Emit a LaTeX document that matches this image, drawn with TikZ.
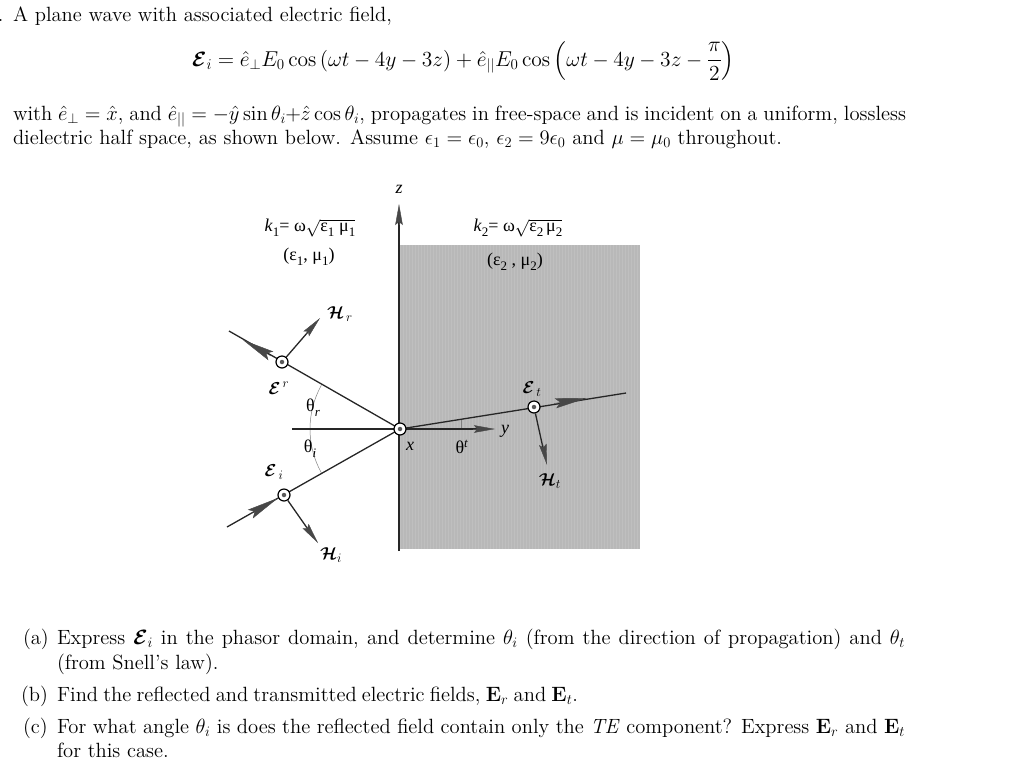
\documentclass[tikz,border=0pt]{standalone}
\usepackage{amsmath,amssymb,bm}
\usepackage[no-math]{fontspec}
\setmainfont{lmroman12-regular.otf}[ItalicFont=lmroman12-italic.otf,BoldFont=lmroman12-bold.otf]
\newfontfamily\figfont{Liberation Serif}
\usetikzlibrary{arrows.meta,calc}
\DeclareFontFamily{OT1}{cmrfix}{}
\DeclareFontShape{OT1}{cmrfix}{m}{n}{<-> cmr12}{}
\DeclareSymbolFont{operators}{OT1}{cmrfix}{m}{n}
\DeclareFontFamily{OML}{cmmfix}{\skewchar\font=127}
\DeclareFontShape{OML}{cmmfix}{m}{it}{<-> cmmi12}{}
\DeclareSymbolFont{letters}{OML}{cmmfix}{m}{it}
\DeclareMathSizes{20.6}{20.6}{14.5}{10.5}
\DeclareMathSizes{21.5}{21.5}{15}{10.8}
\DeclareMathSizes{18}{18}{13}{10}
\definecolor{headgray}{gray}{0.28}
\definecolor{bandgray}{gray}{0.72}
\definecolor{bandlight}{gray}{0.75}
\newcommand{\bodysize}{\fontsize{20.6}{24}\selectfont}
\newcommand{\eqsize}{\fontsize{21.5}{24}\selectfont}
\newcommand{\figsize}{\fontsize{18}{20}\selectfont}
\newcommand{\calbf}[1]{\bm{\mathcal{#1}}}
\newcommand{\tsub}[1]{\raisebox{-0.28em}{\fontsize{13}{13}\selectfont #1}}
\tikzset{
  x=1pt,y=-1pt,
  bodyline/.style={anchor=base west,inner sep=0pt,outer sep=0pt,font=\bodysize},
  figlabel/.style={inner sep=0pt,outer sep=0pt,font=\figsize\figfont},
  ray/.style={line width=1.3pt,black!85},
  raytip/.style={line width=0.4pt,headgray,-{Stealth[length=32pt,width=10pt,inset=5pt]}},
  smalltip/.style={line width=0.4pt,headgray,-{Stealth[length=21pt,width=7.5pt,inset=3pt]}},
  dotring/.style={circle,draw=black,line width=1.2pt,fill=white,minimum size=12pt,inner sep=0pt},
  dotcore/.style={circle,fill=black!65,minimum size=4.5pt,inner sep=0pt},
  anglearc/.style={line width=0.5pt,black!50},
}
\begin{document}
\begin{tikzpicture}
\useasboundingbox (0,0) rectangle (1024,780);
% region
\fill[bandgray] (400,245) rectangle (640,549);
\foreach \k in {0,3,...,237}{\fill[bandlight] (400+\k,245) rectangle (401.2+\k,549);}
% text
\node[bodyline] (dot) at (-2,21) {.};
\node[bodyline] (l1) at (13,21) {A plane wave with associated electric field,};
\node[anchor=base,inner sep=0pt,font=\eqsize] (eq) at (463.5,66) {$\displaystyle \calbf{E}_i=\hat e_\perp E_0\cos\left(\omega t-4y-3z\right)+\hat e_{||}E_0\cos\left(\omega t-4y-3z-\frac{\pi}{2}\right)$};
\node[bodyline] (l2) at (13,120) {\hbox to 893pt{with $\hat e_\perp=\hat x$, and $\hat e_{||}=-\hat y\sin\theta_i\!+\!\hat z\cos\theta_i$, propagates in free-space and is incident on a uniform, lossless}};
\node[bodyline] (l3) at (13,144) {\hbox to 769pt{dielectric half space, as shown below. Assume $\epsilon_1=\epsilon_0$, $\epsilon_2=9\epsilon_0$ and $\mu=\mu_0$ throughout.}};
\node[bodyline] (a) at (23,644) {(a)};
\node[bodyline] (at) at (57,644) {\hbox to 848pt{Express $\calbf{E}_i$ in the phasor domain, and determine $\theta_i$ (from the direction of propagation) and $\theta_t$}};
\node[bodyline] (at2) at (57,669) {(from Snell's law).};
\node[bodyline] (b) at (21,701) {(b)};
\node[bodyline] (bt) at (57,701) {\hbox to 521pt{Find the reflected and transmitted electric fields, $\mathbf{E}_r$ and $\mathbf{E}_t$.}};
\node[bodyline] (c) at (23,733) {(c)};
\node[bodyline] (ct) at (57,733) {\hbox to 848pt{For what angle $\theta_i$ is does the reflected field contain only the \textit{TE} component? Express $\mathbf{E}_r$ and $\mathbf{E}_t$}};
\node[bodyline] (ct2) at (57,757) {for this case.};
% named points
\coordinate (O) at (400,429);
\coordinate (zb) at (399,551);
\coordinate (zt) at (399,215);
\coordinate (inc) at (227,527);
\coordinate (ref) at (229,331);
\coordinate (tra) at (626,393);
\coordinate (hl) at (292,429);
\coordinate (yt) at (480,429);
% arcs
\draw[anglearc] (O)++(151:90) arc (151:209:90);
\draw[anglearc] (461,419) -- (461,429);
% rays
\draw[ray] (zb) -- (zt);
\draw[ray] (hl) -- (yt);
\draw[ray] (inc) -- (O);
\draw[ray] (ref) -- (O);
\draw[ray] (O) -- (tra);
\node[dotring] (ci) at (284,495) {};
\node[dotring] (cr) at (282,362) {};
\node[dotring] (ct3) at (534,407) {};
\node[dotring] (c0) at (400,429) {};
\foreach \n in {ci,cr,ct3,c0}{\node[dotcore] at (\n) {};}
% field arrows
\coordinate (hit) at (312,535);
\coordinate (hrt) at (314,325);
\coordinate (htt) at (545,457);
\draw[ray] (ci) -- (hit);
\draw[ray] (cr) -- (hrt);
\draw[ray] (ct3) -- (htt);
% heads
\coordinate (zh) at (399,225);
\coordinate (zz) at (399,204);
\draw[smalltip] (zh) -- (zz);
\coordinate (yh) at (473,429);
\coordinate (yy) at (495,429);
\draw[smalltip] (yh) -- (yy);
\coordinate (hib) at (305.5,526);
\coordinate (hitt) at (318,543);
\draw[smalltip] (hib) -- (hitt);
\coordinate (hrb) at (306,334);
\coordinate (hrtt) at (320,318);
\draw[smalltip] (hrb) -- (hrtt);
\coordinate (htb) at (542.7,444);
\coordinate (httt) at (547,465);
\draw[smalltip] (htb) -- (httt);
\coordinate (ib) at (250.5,514);
\coordinate (it) at (278,498);
\draw[raytip] (ib) -- (it);
\coordinate (rb) at (271,356);
\coordinate (rt) at (243,340);
\draw[raytip] (rb) -- (rt);
\coordinate (tb) at (554,403.5);
\coordinate (tt) at (587,398);
\draw[raytip] (tb) -- (tt);
% labels
\node[figlabel] (lz) at (399,189) {\textit{z}};
\node[figlabel] (lk1) at (310,228) {\textit{k}\tsub{1}= ω$\sqrt{\text{ε}\tsub{1}\;\text{μ}\tsub{1}}$};
\node[figlabel] (lm1) at (309,257) {(ε\tsub{1}, μ\tsub{1})};
\node[figlabel] (lk2) at (518,228) {\textit{k}\tsub{2}= ω$\sqrt{\text{ε}\tsub{2}\,\text{μ}\tsub{2}}$};
\node[figlabel] (lm2) at (515,262) {(ε\tsub{2} , μ\tsub{2})};
\node[figlabel] (lhr) at (340,314) {$\calbf{H}_{\,r}$};
\node[figlabel] (ler) at (279,388) {$\calbf{E}^{\,r}$};
\node[figlabel] (lei) at (274,472) {$\calbf{E}_{\,i}$};
\node[figlabel] (lhi) at (331,555) {$\calbf{H}_{i}$};
\node[figlabel] (lthr) at (313,408) {θ\tsub{\textit{r}}};
\node[figlabel] (lthi) at (310,449) {θ\tsub{\textit{i}}};
\node[figlabel] (lx) at (410,446) {\textit{x}};
\node[figlabel] (ltht) at (462,447) {θ$^{\text{\textit{t}}}$};
\node[figlabel] (ly) at (505,431) {\textit{y}};
\node[figlabel] (let) at (532,389) {$\calbf{E}_{\,t}$};
\node[figlabel] (lht) at (550,481) {$\calbf{H}_{t}$};
\end{tikzpicture}
\end{document}
